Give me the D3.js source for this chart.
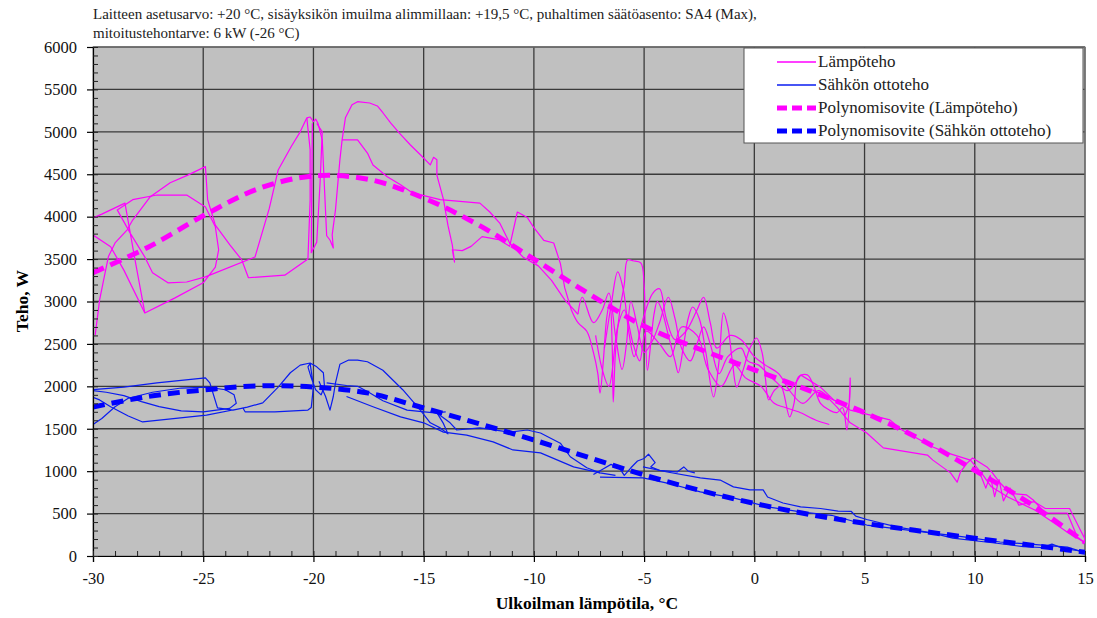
<!DOCTYPE html>
<html><head><meta charset="utf-8">
<script src="https://cdn.jsdelivr.net/npm/d3@7"></script>
<style>
body{margin:0;background:#fff;}
text{font-family:"Liberation Serif","Times New Roman",serif;}
</style></head>
<body><svg id="c" width="1097" height="618"></svg>
<script>
const titleLines = ["Laitteen asetusarvo: +20 °C, sisäyksikön imuilma alimmillaan: +19,5 °C, puhaltimen säätöasento: SA4 (Max),",
                    "mitoitustehontarve: 6 kW (-26 °C)"];
const xTicks = [-30,-25,-20,-15,-10,-5,0,5,10,15];
const yTicks = [0,500,1000,1500,2000,2500,3000,3500,4000,4500,5000,5500,6000];
const legendLabels = ["Lämpöteho","Sähkön ottoteho","Polynomisovite (Lämpöteho)","Polynomisovite (Sähkön ottoteho)"];

const fitT     = [-30,-27.5,-25,-22.5,-20,-17.5,-15,-12.5,-10,-7.5,-5,-2.5,0,2.5,5,7.5,10,12.5,15];
const heatFitW = [3340,3640,4010,4330,4480,4440,4220,3900,3500,3090,2710,2440,2195,1950,1690,1380,1010,620,160];
const elecFitW = [1756,1880,1957,2005,1992,1920,1745,1560,1367,1160,955,775,620,490,385,295,210,130,45];

const heatLeft = [
 [[-29.9,2605],[-29.7,3020],[-29.45,3340],[-29.3,3530],[-29.0,3690],[-28.45,3845],[-28.2,3960],[-27.4,4235],[-26.5,4400],[-25.7,4490],[-24.9,4590],[-24.8,4200],[-24.45,3900],[-23.8,3670],[-23.25,3490],[-22.95,3280],[-21.3,3310],[-20.25,3500],[-20.15,4200],[-20.15,4790],[-20.3,5165]],
 [[-30,3985],[-29.6,4030],[-28.55,4160],[-28.1,3500],[-27.65,2865],[-26.3,3040],[-25.0,3220],[-24.45,3405],[-24.3,3610],[-24.45,3880],[-24.9,4115],[-25.75,4255],[-27.1,4255],[-28.2,4200],[-28.9,4080],[-28.3,3800],[-27.65,3525],[-27.3,3340],[-26.6,3220],[-25.75,3230],[-24.9,3290],[-22.65,3525],[-22.0,4100],[-21.6,4550],[-21.0,4830],[-20.6,5000],[-20.3,5165]],
 [[-30,3785],[-29.2,3645],[-28.6,3370],[-27.65,2865]]
];
const heatPeak = [
 [[-20.3,5165],[-20.15,5175],[-20.0,5120],[-19.9,5150],[-19.8,5105],[-19.6,4905],[-19.4,3775],[-19.25,3725],[-19.1,3630],[-19.15,3785],[-19.0,4080],[-18.8,4670],[-18.7,4905],[-18.55,5165],[-18.25,5320],[-18.0,5355],[-17.45,5340],[-17.1,5305],[-16.85,5225],[-16.5,5105],[-16.1,4985],[-15.6,4845],[-15.15,4730],[-14.7,4610],[-14.55,4700],[-14.4,4670],[-14.4,4490],[-14.1,4200],[-13.9,3900],[-13.7,3665],[-13.6,3465],[-13.7,3610],[-13.25,3600],[-12.85,3650],[-12.35,3765],[-11.6,3730],[-11.1,3650],[-10.75,4055],[-10.3,3990],[-10.0,3870],[-9.55,3720],[-9.1,3690],[-8.8,3450],[-8.6,3160],[-8.3,2900]],
 [[-20.05,5100],[-20.1,3575],[-19.85,3700],[-19.7,4400],[-19.6,5000],[-19.85,5100]],
 [[-18.7,4905],[-18.0,4905],[-17.55,4750],[-17.3,4610],[-16.65,4470],[-16.05,4375],[-15.5,4280],[-14.25,4200],[-12.45,4160],[-12.0,4055],[-11.55,3925],[-11.1,3690],[-10.5,3525],[-9.8,3420],[-9.2,3250],[-8.6,3020],[-8.0,2850]]
];
const heatMid = [
 [[-8.3,2900],[-8.0,2750],[-7.6,2650],[-7.3,2400],[-7.1,2150],[-7.0,1920],[-6.85,2300],[-6.7,2800],[-6.55,3000],[-6.45,2500],[-6.4,1815],[-6.3,2400],[-6.1,2900],[-5.9,3200],[-5.75,3490],[-5.5,3480],[-5.15,3455],[-5.0,3200],[-4.95,2700],[-4.85,2190],[-4.7,2500],[-4.55,2850],[-4.4,3000],[-4.2,2900],[-3.9,2600],[-3.6,2300],[-3.45,2160],[-3.2,2500],[-3.0,2800],[-2.8,2935],[-2.5,2800],[-2.2,2400],[-1.85,1875],[-1.6,2300],[-1.4,2865],[-1.2,2700],[-1.0,2300],[-0.8,1990],[-0.5,2200],[-0.2,2450],[0.1,2570],[0.35,2400],[0.5,2100],[0.65,1840],[0.9,1950],[1.2,2000],[1.6,1640],[1.8,1800],[2.0,2110],[2.4,2135],[2.7,2000],[3.0,1800],[3.4,1720],[3.75,1690],[4.0,1750],[4.2,1485],[4.35,2100],[4.3,1800],[4.1,1650]],
 [[-8.0,2850],[-7.8,3050],[-7.3,2750],[-6.9,2900],[-6.6,3100],[-6.3,2600],[-6.0,2200],[-5.8,2500],[-5.6,3000],[-5.3,2700],[-5.0,2400],[-4.6,2550],[-4.3,2750],[-3.9,3050],[-3.6,2800],[-3.3,2450],[-2.9,2300],[-2.6,2500],[-2.3,2700],[-2.0,2500],[-1.6,2150],[-1.2,2350],[-0.6,2450],[-0.3,2300],[0.2,2250],[0.6,2150],[1.0,2050],[1.5,1950],[2.1,2135]],
 [[-7.2,2600],[-6.9,2200],[-6.6,2000],[-6.2,2700],[-5.9,2900],[-5.5,2500],[-5.2,2300],[-4.9,2650],[-4.3,2500],[-3.8,2350],[-3.3,2700],[-2.6,2600],[-2.1,2200],[-1.5,2000],[-0.9,2250],[-0.4,2100],[0.3,2000],[0.9,1800],[1.4,1750],[2.0,1700],[2.8,1600],[3.4,1550]],
 [[-6.8,2450],[-6.5,2950],[-6.2,3350],[-5.95,3150],[-5.7,2650],[-5.45,2350],[-5.1,2750],[-4.6,3100],[-4.3,3150],[-4.0,2800],[-3.6,2550],[-3.1,2650],[-2.6,2900],[-2.3,3050],[-2.0,2750],[-1.7,2450],[-1.1,2600],[-0.6,2550],[0.0,2350],[0.5,2250],[1.1,2150],[1.6,1950],[2.2,1800],[2.9,1950],[3.5,1850],[4.0,1800]]
];
const heatRight = [
 [[2.1,2135],[3.0,1990],[3.6,1840],[4.35,1720],[6.15,1605],[6.7,1485],[8.1,1285],[8.75,1215],[9.8,1130],[10.3,980],[10.75,815],[11.5,695],[12.7,545],[13.6,390],[14.25,270],[14.95,165]],
 [[2.65,1955],[3.3,1875],[3.75,1755],[4.35,1570],[5.1,1450],[5.85,1275],[7.85,1190],[8.1,1130],[8.9,980],[9.2,870],[9.35,990],[9.65,1095],[9.9,1155],[10.55,1050],[10.8,980],[11.15,860],[11.6,740],[12.35,720],[12.65,660],[13.2,505],[14.2,505],[14.65,225],[15.0,155],[15.0,305]],
 [[10.2,1000],[10.5,800],[10.7,950],[10.9,700],[11.1,900],[11.3,650],[11.6,800],[12.0,600],[12.7,640],[13.2,560],[14.3,560],[14.8,300],[15,200]]
];
const elecRaw = [
 [[-30,1960],[-28.6,1990],[-27.1,2040],[-24.9,2100],[-24.7,2040],[-24.35,1745],[-23.65,1720],[-23.0,1755],[-22.3,1805],[-21.6,1990],[-21.05,2160],[-20.6,2250],[-20.15,2275],[-19.85,2230],[-19.55,2160],[-19.5,2000],[-19.65,1900],[-19.9,1960],[-20.1,2100],[-20.25,2230],[-20.15,2270],[-20.0,2000],[-20.1,1750],[-20.25,1720],[-21.75,1700],[-23.1,1700],[-23.2,1745],[-24.85,1660],[-27.75,1580],[-28.4,1650],[-29.2,1760],[-29.7,1840],[-30,1870]],
 [[-30,1550],[-29.6,1620],[-29,1760],[-28.4,1860],[-27.3,1930],[-26,1980],[-24.8,1990],[-24.0,1960],[-23.6,1900],[-23.5,1800],[-23.8,1740],[-25,1700],[-26,1710],[-27,1760],[-27.8,1820],[-28.6,1890],[-29.4,1930],[-30,1950]],
 [[-19.75,2060],[-19.45,1880],[-19.25,1720],[-19.1,1880],[-19.0,2040],[-18.8,2260],[-18.4,2310],[-18.0,2310],[-17.55,2290],[-16.85,2190],[-15.95,1960],[-15.15,1720],[-14.7,1570],[-14.25,1510],[-13.9,1440],[-14.1,1560],[-14.4,1690],[-14.0,1700]],
 [[-19.4,2040],[-18.5,2010],[-18.0,2000],[-17.55,1940],[-16.85,1830],[-15.75,1720],[-14.4,1685],[-13.8,1570],[-13.5,1485],[-12.45,1510],[-11.1,1460],[-10.3,1485],[-9.7,1450],[-8.8,1330],[-8.35,1170],[-7.6,1040],[-7.0,980]],
 [[-18.5,1880],[-17.3,1760],[-16.05,1640],[-15.0,1570],[-14.1,1460],[-13.05,1425],[-11.85,1345],[-10.95,1250],[-9.7,1215],[-8.2,1050],[-7.0,980],[-6.3,950]],
 [[-7.3,960],[-6.9,1020],[-6.5,1080],[-6.1,1030],[-5.9,950],[-5.6,1040],[-5.3,1120],[-5.0,1150],[-4.8,1200],[-4.5,1100],[-4.7,1050],[-4.3,1010],[-3.9,1000],[-3.5,990],[-3.2,1050],[-3.0,1000],[-2.7,980]],
 [[-5.05,1050],[-3.95,990],[-2.45,920],[-1.55,895],[-0.95,815],[-0.2,780],[0.4,780],[0.6,695],[1.3,625],[2.1,580],[3.0,560],[3.8,530],[4.4,525],[4.6,470],[5.1,430],[6.5,340],[8.1,270],[9.5,225],[11.15,165],[12.5,140],[14.2,105],[15,40]],
 [[-7.0,930],[-5.05,920],[-3.95,860],[-2.45,755],[-0.95,685],[0.6,580],[2.1,520],[3.5,480],[5.1,365],[6.5,320],[8.1,270],[9,210],[10,180],[11,150],[12.2,110],[13,100],[13.5,140],[14,90],[15,50]]
];

const svg = d3.select("#c");
const L = 93, R = 1085, T = 47, B = 556;
const x = d3.scaleLinear().domain([-30,15]).range([L,R]);
const y = d3.scaleLinear().domain([0,6000]).range([B,T]);

svg.append("rect").attr("x",L).attr("y",T).attr("width",R-L).attr("height",B-T).attr("fill","#c0c0c0");

const g = svg.append("g");
g.selectAll(".hg").data(yTicks.filter(v=>v>0)).join("line")
 .attr("x1",L).attr("x2",R).attr("y1",d=>y(d)).attr("y2",d=>y(d)).attr("stroke","#3a3a3a").attr("stroke-width",1.3);
g.selectAll(".vg").data(xTicks.filter(v=>v>-30)).join("line")
 .attr("y1",T).attr("y2",B).attr("x1",d=>x(d)).attr("x2",d=>x(d)).attr("stroke","#3a3a3a").attr("stroke-width",1.3);
svg.append("rect").attr("x",L).attr("y",T).attr("width",R-L).attr("height",B-T).attr("fill","none").attr("stroke","#808080").attr("stroke-width",1);

const line = d3.line().x(d=>x(d[0])).y(d=>y(d[1]));
const smooth = d3.line().x(d=>x(d[0])).y(d=>y(d[1])).curve(d3.curveCatmullRom.alpha(0.5));
svg.append("clipPath").attr("id","pc").append("rect").attr("x",L).attr("y",T).attr("width",R-L).attr("height",B-T);
const pl = svg.append("g").attr("clip-path","url(#pc)");

[...heatLeft,...heatPeak,...heatRight].forEach(s=>{
  pl.append("path").attr("d",line(s)).attr("fill","none").attr("stroke","#ff00ff").attr("stroke-width",1.2).attr("stroke-linejoin","round");
});
heatMid.forEach(s=>{
  pl.append("path").attr("d",smooth(s)).attr("fill","none").attr("stroke","#ff00ff").attr("stroke-width",1.2).attr("stroke-linejoin","round");
});
elecRaw.forEach(s=>{
  pl.append("path").attr("d",line(s)).attr("fill","none").attr("stroke","#0a1cf0").attr("stroke-width",1.2).attr("stroke-linejoin","round");
});
const fitLine = d3.line().x(d=>x(d[0])).y(d=>y(d[1])).curve(d3.curveCatmullRom);
pl.append("path").attr("d",fitLine(fitT.map((t,i)=>[t,heatFitW[i]]))).attr("fill","none").attr("stroke","#ff00ff").attr("stroke-width",5).attr("stroke-dasharray","12,7");
pl.append("path").attr("d",fitLine(fitT.map((t,i)=>[t,elecFitW[i]]))).attr("fill","none").attr("stroke","#0000ff").attr("stroke-width",5).attr("stroke-dasharray","12,7");

const yAx = svg.append("g").attr("transform",`translate(${L},0)`)
  .call(d3.axisLeft(y).tickValues(yTicks).tickSize(6).tickPadding(10).tickFormat(d3.format("d")));
const xAx = svg.append("g").attr("transform",`translate(0,${B})`)
  .call(d3.axisBottom(x).tickValues(xTicks).tickSize(6).tickPadding(10).tickFormat(d=>d));
[yAx,xAx].forEach(a=>{
  a.select(".domain").attr("stroke","#000").attr("stroke-width",1.2);
  a.selectAll(".tick line").attr("stroke","#000").attr("stroke-width",1.2);
  a.selectAll("text").attr("font-size",16.5).attr("fill","#111").attr("font-family","Liberation Serif");
});
svg.append("g").attr("transform",`translate(${L},0)`).call(d3.axisRight(y).ticks(60).tickSize(5).tickFormat(""))
  .call(a=>{a.select(".domain").remove();a.selectAll("line").attr("stroke","#222").attr("stroke-width",1);});
svg.append("g").attr("transform",`translate(0,${B})`).call(d3.axisTop(x).ticks(45).tickSize(5).tickFormat(""))
  .call(a=>{a.select(".domain").remove();a.selectAll("line").attr("stroke","#222").attr("stroke-width",1);});

svg.selectAll(".tl").data(titleLines).join("text").attr("x",L).attr("y",(d,i)=>19+i*19)
  .attr("font-size",15).attr("fill","#222").text(d=>d);
svg.append("text").attr("x",(L+R)/2-2).attr("y",609).attr("text-anchor","middle").attr("font-size",17.5).attr("font-weight","bold").text("Ulkoilman lämpötila, °C");
svg.append("text").attr("transform","translate(28,301) rotate(-90)").attr("text-anchor","middle").attr("font-size",17.5).attr("font-weight","bold").text("Teho, W");

const lg = svg.append("g");
lg.append("rect").attr("x",744).attr("y",48).attr("width",339).attr("height",95).attr("fill","#fff").attr("stroke","#555").attr("stroke-width",1);
const colors = ["#ff00ff","#0a1cf0","#ff00ff","#0000ff"];
legendLabels.forEach((lab,i)=>{
  const yy = 62 + i*23;
  const dashed = i>=2;
  lg.append("line").attr("x1",777).attr("x2",816).attr("y1",yy).attr("y2",yy).attr("stroke",colors[i])
    .attr("stroke-width",dashed?5:1.5).attr("stroke-dasharray",dashed?"10,5":null);
  lg.append("text").attr("x",818).attr("y",yy+5).attr("font-size",17).attr("fill","#222").text(lab);
});
</script></body></html>
